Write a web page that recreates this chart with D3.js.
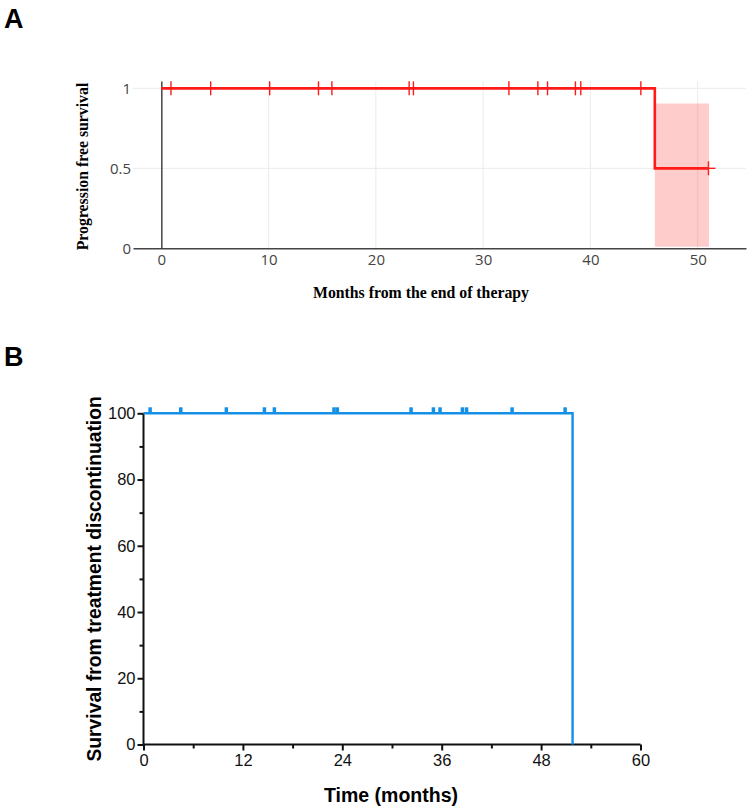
<!DOCTYPE html>
<html>
<head>
<meta charset="utf-8">
<script src="https://cdn.jsdelivr.net/npm/d3@7"></script>
<style>
  body { margin: 0; background: #fff; }
  svg { display: block; }
</style>
</head>
<body>
<div id="chart"></div>
<script>
// Panel A: progression free survival (Kaplan-Meier)
const pfsTimes = [0, 46.0, 51.0]
const pfsValues = [1, 0.5, 0.5]
const pfsCensored = [0.9, 4.6, 10.1, 14.65, 15.9, 23.1, 23.5, 32.4, 35.1, 36.0, 38.6, 39.1, 44.7]
const pfsCensoredLow = [51.0]
const pfsCiTimes = [46.0, 51.05]
const pfsCiUpper = [0.906, 0.906]
const pfsCiLower = [0.01, 0.01]
const pfsXTicks = [0, 10, 20, 30, 40, 50]
const pfsYTicks = [0, 0.5, 1]

// Panel B: survival from treatment discontinuation
const osTimes = [0, 51.8, 51.8]
const osValues = [100, 100, 0]
const osCensored = [0.8, 4.5, 10.0, 14.6, 15.8, 23.0, 23.4, 32.3, 35.0, 35.8, 38.5, 39.0, 44.5, 50.9]
const osXTicks = [0, 12, 24, 36, 48, 60]
const osXMinor = [6, 18, 30, 42, 54]
const osYTicks = [0, 20, 40, 60, 80, 100]
const osYMinor = [10, 30, 50, 70, 90]

const width = 752, height = 811

const svg = d3.select("#chart").append("svg")
    .attr("width", width)
    .attr("height", height)

// panel letters
svg.append("text").attr("x", 4).attr("y", 28).text("A")
    .attr("font-family", "Liberation Sans, Arial, sans-serif")
    .attr("font-weight", "bold").attr("font-size", 27)
svg.append("text").attr("x", 4).attr("y", 366).text("B")
    .attr("font-family", "Liberation Sans, Arial, sans-serif")
    .attr("font-weight", "bold").attr("font-size", 27)

// ---------- Panel A ----------
const xA = d3.scaleLinear().domain([-2.64, 54.5]).range([133, 746])
const yA = d3.scaleLinear().domain([0, 1.046]).range([248.3, 81])
const gA = svg.append("g")
const red = "#ff1a1a"
const tickFont = "'Open Sans', 'DejaVu Sans', sans-serif"

// grid
gA.append("g").selectAll("line").data(pfsXTicks.filter(d => d > 0)).enter().append("line")
    .attr("x1", d => xA(d)).attr("x2", d => xA(d))
    .attr("y1", yA.range()[1]).attr("y2", yA(0))
    .attr("stroke", "#ebebeb").attr("stroke-width", 1)
gA.append("g").selectAll("line").data(pfsYTicks.filter(d => d > 0)).enter().append("line")
    .attr("x1", xA.range()[0]).attr("x2", xA.range()[1])
    .attr("y1", d => yA(d)).attr("y2", d => yA(d))
    .attr("stroke", "#ebebeb").attr("stroke-width", 1)

// confidence band
const ciData = pfsCiTimes.map((t, i) => ({t: t, lo: pfsCiLower[i], hi: pfsCiUpper[i]}))
gA.append("path")
    .datum(ciData)
    .attr("d", d3.area().x(d => xA(d.t)).y0(d => yA(d.lo)).y1(d => yA(d.hi)))
    .attr("fill", "rgba(255,0,0,0.2)")

// axes
const xAxisA = gA.append("g").attr("transform", `translate(0,${yA(0)})`)
    .call(d3.axisBottom(xA).tickValues(pfsXTicks).tickSize(0).tickPadding(6))
xAxisA.select(".domain").attr("stroke", "#444").attr("stroke-width", 1.5)
const yAxisA = gA.append("g").attr("transform", `translate(${xA(0)},0)`)
    .call(d3.axisLeft(yA).tickValues(pfsYTicks).tickSize(0).tickPadding(0).tickFormat(d3.format("")))
yAxisA.select(".domain").attr("stroke", "#444").attr("stroke-width", 1.5)
yAxisA.selectAll("text").attr("x", xA.range()[0] - xA(0) - 2)
gA.selectAll(".tick text").attr("font-family", tickFont).attr("font-size", 15).attr("fill", "#444")

// survival step line
const pfsData = pfsTimes.map((t, i) => ({t: t, s: pfsValues[i]}))
gA.append("path")
    .datum(pfsData)
    .attr("d", d3.line().x(d => xA(d.t)).y(d => yA(d.s)).curve(d3.curveStepAfter))
    .attr("fill", "none").attr("stroke", red).attr("stroke-width", 2.6)

// censor marks (+)
const censA = pfsCensored.map(t => ({t: t, s: 1})).concat(pfsCensoredLow.map(t => ({t: t, s: 0.5})))
const marks = gA.append("g").selectAll("g").data(censA).enter().append("g")
    .attr("transform", d => `translate(${xA(d.t)},${yA(d.s)})`)
marks.append("line").attr("x1", 0).attr("x2", 0).attr("y1", -7).attr("y2", 7)
    .attr("stroke", red).attr("stroke-width", 1.4)
marks.append("line").attr("x1", -7).attr("x2", 7).attr("y1", 0).attr("y2", 0)
    .attr("stroke", red).attr("stroke-width", 1.4)

// titles
svg.append("text")
    .attr("transform", `translate(88,166.5) rotate(-90)`)
    .attr("text-anchor", "middle")
    .attr("font-family", "'Liberation Serif', 'Times New Roman', serif")
    .attr("font-weight", "bold").attr("font-size", 15.8)
    .text("Progression free survival")
svg.append("text")
    .attr("x", 421).attr("y", 298)
    .attr("text-anchor", "middle")
    .attr("font-family", "'Liberation Serif', 'Times New Roman', serif")
    .attr("font-weight", "bold").attr("font-size", 15.8)
    .text("Months from the end of therapy")

// ---------- Panel B ----------
const xB = d3.scaleLinear().domain([0, 60]).range([143.5, 640.5])
const yB = d3.scaleLinear().domain([0, 100]).range([744.5, 413.3])
const gB = svg.append("g")
const blue = "#1590e6"
const armFont = "'Liberation Sans', Arial, sans-serif"

const xAxisB = gB.append("g").attr("transform", `translate(0,${yB(0)})`)
    .call(d3.axisBottom(xB).tickValues(osXTicks).tickSize(6).tickPadding(4))
const yAxisB = gB.append("g").attr("transform", `translate(${xB(0)},0)`)
    .call(d3.axisLeft(yB).tickValues(osYTicks).tickSize(6).tickPadding(2))
gB.append("g").attr("transform", `translate(0,${yB(0)})`)
    .call(d3.axisBottom(xB).tickValues(osXMinor).tickSize(4).tickFormat(""))
    .select(".domain").remove()
gB.append("g").attr("transform", `translate(${xB(0)},0)`)
    .call(d3.axisLeft(yB).tickValues(osYMinor).tickSize(4).tickFormat(""))
    .select(".domain").remove()
gB.selectAll(".domain").attr("stroke", "#111").attr("stroke-width", 2)
gB.selectAll(".tick line").attr("stroke", "#111").attr("stroke-width", 2)
gB.selectAll(".tick text").attr("font-family", armFont).attr("font-size", 16.5).attr("fill", "#111")
// straight axis lines without end caps
xAxisB.select(".domain").attr("d", `M${xB.range()[0]},0H${xB.range()[1]}`)
yAxisB.select(".domain").attr("d", `M0,${yB.range()[0]}V${yB.range()[1]}`)

// survival step line
const osData = osTimes.map((t, i) => ({t: t, s: osValues[i]}))
gB.append("path")
    .datum(osData)
    .attr("d", d3.line().x(d => xB(d.t)).y(d => yB(d.s)))
    .attr("fill", "none").attr("stroke", blue).attr("stroke-width", 2.4)

// censor ticks
gB.append("g").selectAll("line").data(osCensored).enter().append("line")
    .attr("x1", d => xB(d)).attr("x2", d => xB(d))
    .attr("y1", yB(100)).attr("y2", yB(100) - 6)
    .attr("stroke", blue).attr("stroke-width", 3.5)

svg.append("text")
    .attr("transform", `translate(101,${(yB(0) + yB(100)) / 2}) rotate(-90)`)
    .attr("text-anchor", "middle")
    .attr("font-family", armFont)
    .attr("font-weight", "bold").attr("font-size", 19.3)
    .text("Survival from treatment discontinuation")
svg.append("text")
    .attr("x", 391).attr("y", 802)
    .attr("text-anchor", "middle")
    .attr("font-family", armFont)
    .attr("font-weight", "bold").attr("font-size", 19.5)
    .text("Time (months)")
</script>
</body>
</html>
